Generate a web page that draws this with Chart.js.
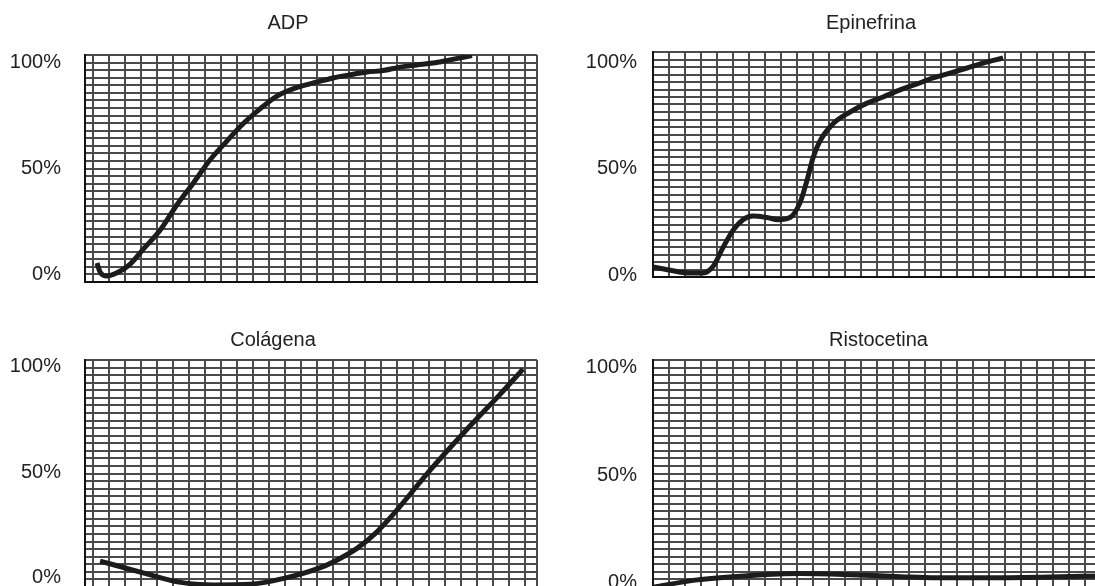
<!DOCTYPE html>
<html>
<head>
<meta charset="utf-8">
<script src="https://cdn.jsdelivr.net/npm/chart.js@4.4.1/dist/chart.umd.min.js"></script>
<style>
  html, body { margin: 0; padding: 0; background: #fff; overflow: hidden; }
  #wrap { position: relative; width: 1095px; height: 586px; overflow: hidden; }
  canvas { position: absolute; }
</style>
</head>
<body>
<div id="wrap">
  <canvas id="adp" width="576" height="300" style="left:0;top:0"></canvas>
  <canvas id="epi" width="602" height="300" style="left:570px;top:0"></canvas>
  <canvas id="col" width="546" height="310" style="left:0;top:300px"></canvas>
  <canvas id="ris" width="617" height="310" style="left:570px;top:300px"></canvas>
</div>
<script>
// tiempo in grid cells, agregacion in %
const adpTiempo = [0.75, 0.94, 1.38, 2.0, 2.81, 3.63, 4.69, 5.75, 6.75, 7.81, 8.88, 9.88, 10.94, 12.0, 13.44, 14.5, 15.5, 16.56, 17.63, 18.63, 19.69, 20.75, 21.75, 22.81, 24.19];
const adpAgreg   = [5.6, 1.4, -0.5, 1, 5, 12, 21, 33, 43, 54, 63, 71, 78, 84, 88.5, 90.6, 92.5, 94, 95.3, 96, 97.6, 98.6, 99.5, 101, 103];

const epiTiempo = [0, 1.25, 2.31, 3.13, 3.75, 4.38, 5.0, 5.63, 6.25, 7.13, 7.81, 8.56, 9.19, 9.63, 10.0, 10.44, 11.25, 12.31, 13.38, 14.38, 15.44, 16.5, 17.5, 18.56, 19.63, 20.63, 21.88];
const epiAgreg   = [3.8, 2, 1, 1, 4, 13, 21, 26, 27.7, 27, 26, 27, 34, 44.6, 55, 63, 71, 76.5, 80.7, 83.6, 86.9, 89.7, 92.5, 94.8, 97.2, 99.5, 101.9];

const colTiempo = [0.94, 3.63, 5.88, 8.06, 10.31, 12.56, 14.75, 15.88, 17.0, 18.13, 19.25, 21.56, 24.06, 25.94, 27.38];
const colAgreg   = [8, 2.4, -2, -3.3, -3, 0, 5, 9, 14, 21, 30, 51, 72, 87, 99];

const risTiempo = [0, 2.75, 5.94, 9.13, 12.31, 15.5, 17.63, 21.94, 28.25];
const risAgreg   = [-2, 1.4, 3.3, 4.3, 3.8, 2.9, 2.4, 2.4, 3.3];

const yTicks = [0, 50, 100];

const FONT = "'Liberation Sans', Arial, sans-serif";
const GRID = '#4a4a4a';

function panel(id, title, xs, ys, o) {
  const xmax = 28.25;
  const gridTop = o.gridRows;
  new Chart(document.getElementById(id), {
    type: 'line',
    data: {
      datasets: [{
        data: xs.map((x, i) => ({ x: x, y: ys[i] })),
        borderColor: '#1c1c1c',
        borderWidth: 5,
        pointRadius: 0,
        cubicInterpolationMode: 'monotone',
        fill: false,
      }],
    },
    options: {
      responsive: false,
      animation: false,
      devicePixelRatio: 1,
      layout: { padding: { left: 0, right: 0, top: 0, bottom: o.padBottom } },
      plugins: {
        legend: { display: false },
        tooltip: { enabled: false },
        title: {
          display: true,
          text: title,
          color: '#222',
          font: { family: FONT, size: 20, weight: 'normal' },
          padding: o.titlePad,
        },
      },
      scales: {
        x: {
          type: 'linear',
          min: 0,
          max: xmax,
          afterBuildTicks: (s) => {
            const t = [0];
            for (let v = o.xOffset; v < xmax; v += 1) if (v > 0) t.push(v);
            t.push(xmax);
            s.ticks = t.map((v) => ({ value: v }));
          },
          afterFit: (s) => { s.height = 0; s.paddingLeft = 0; s.paddingRight = 0; },
          ticks: { display: false },
          grid: { color: GRID, lineWidth: 2, drawTicks: false },
          border: { color: '#111', width: 2 },
        },
        y: {
          min: o.ymin,
          max: o.ymax,
          afterBuildTicks: (s) => { s.ticks = yTicks.map((v) => ({ value: v })); },
          afterFit: (s) => { s.width = o.yWidth; s.paddingTop = 0; s.paddingBottom = 0; },
          ticks: {
            color: '#222',
            padding: o.tickPad,
            font: { family: FONT, size: 20 },
            callback: (v) => v + '%',
          },
          grid: { display: false, drawTicks: false },
          border: { color: '#111', width: 2 },
        },
        // horizontal grid rows, placed on the right to reserve the right margin
        yg: {
          position: 'right',
          min: 0,
          max: gridTop,
          afterBuildTicks: (s) => {
            const t = [];
            for (let v = 0; v <= gridTop; v += 1) t.push(v);
            s.ticks = t.map((v) => ({ value: v }));
          },
          afterFit: (s) => { s.width = o.rightGap; s.paddingTop = 0; s.paddingBottom = 0; },
          ticks: { display: false },
          grid: { color: GRID, lineWidth: 2, drawTicks: false },
          border: { display: false },
        },
      },
    },
  });
}

panel('adp', 'ADP', adpTiempo, adpAgreg, {
  padBottom: 18, rightGap: 39,
  titlePad: { top: 11.5, bottom: 19.5 },
  yWidth: 85, tickPad: 24, xOffset: 0.5,
  ymin: -3.3, ymax: 103.3, gridRows: 30,
});
panel('epi', 'Epinefrina', epiTiempo, epiAgreg, {
  padBottom: 23, rightGap: 67,
  titlePad: { top: 11.5, bottom: 16.5 },
  yWidth: 83, tickPad: 16, xOffset: 1,
  ymin: -0.9, ymax: 104.7, gridRows: 30,
});
panel('col', 'Colágena', colTiempo, colAgreg, {
  padBottom: 23, rightGap: 9,
  titlePad: { top: 28, bottom: 8 },
  yWidth: 85, tickPad: 24, xOffset: 0.5,
  ymin: -4.3, ymax: 103.3, gridRows: 30,
});
panel('ris', 'Ristocetina', risTiempo, risAgreg, {
  padBottom: 23, rightGap: 82,
  titlePad: { top: 28, bottom: 8 },
  yWidth: 83, tickPad: 16, xOffset: 1,
  ymin: -1.9, ymax: 103.3, gridRows: 30,
});
</script>
</body>
</html>
